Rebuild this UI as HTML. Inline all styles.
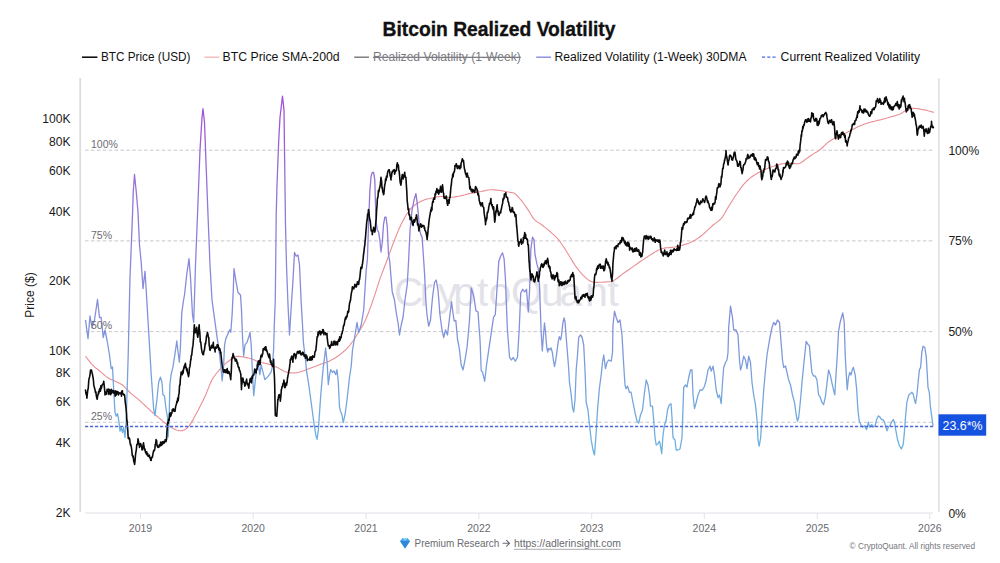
<!DOCTYPE html><html><head><meta charset="utf-8"><title>Bitcoin Realized Volatility</title><style>html,body{margin:0;padding:0;background:#fff;}body{width:1000px;height:563px;overflow:hidden;}svg{display:block;}</style></head><body><svg width="1000" height="563" viewBox="0 0 1000 563" font-family='"Liberation Sans", Arial, Helvetica, sans-serif'>
<defs><linearGradient id="vg" gradientUnits="userSpaceOnUse" x1="0" y1="95" x2="0" y2="460"><stop offset="0" stop-color="#a24ed8"/><stop offset="0.233" stop-color="#9570d6"/><stop offset="0.452" stop-color="#8a86dc"/><stop offset="0.616" stop-color="#8390da"/><stop offset="0.781" stop-color="#78a2dc"/><stop offset="0.945" stop-color="#6cb0e0"/><stop offset="1" stop-color="#68b2e0"/></linearGradient></defs>
<rect width="1000" height="563" fill="#fff"/>
<text x="382.5" y="35.7" font-size="20.6" font-weight="700" fill="#111" stroke="#111" stroke-width="0.35" textLength="233" lengthAdjust="spacingAndGlyphs">Bitcoin Realized Volatility</text>
<line x1="82" y1="57.2" x2="97.4" y2="57.2" stroke="#111" stroke-width="1.6"/>
<text x="101" y="61" font-size="12.5" fill="#111" textLength="89.4" lengthAdjust="spacingAndGlyphs">BTC Price (USD)</text>
<line x1="204.4" y1="57.2" x2="219.2" y2="57.2" stroke="#f2b8b8" stroke-width="1.4"/>
<text x="222.6" y="61" font-size="12.5" fill="#111" textLength="117" lengthAdjust="spacingAndGlyphs">BTC Price SMA-200d</text>
<line x1="354.2" y1="57.2" x2="369" y2="57.2" stroke="#777" stroke-width="1.4"/>
<text x="373" y="61" font-size="12.5" fill="#7a7a80" textLength="147.8" lengthAdjust="spacingAndGlyphs" text-decoration="line-through">Realized Volatility (1-Week)</text>
<line x1="536.2" y1="57.2" x2="551" y2="57.2" stroke="#8a86e0" stroke-width="1.4"/>
<text x="554.4" y="61" font-size="12.5" fill="#111" textLength="192.1" lengthAdjust="spacingAndGlyphs">Realized Volatility (1-Week) 30DMA</text>
<line x1="762" y1="57.2" x2="776.5" y2="57.2" stroke="#4a6ee0" stroke-width="1.3" stroke-dasharray="3.2 2"/>
<text x="780.6" y="61" font-size="12.5" fill="#111" textLength="139.4" lengthAdjust="spacingAndGlyphs">Current Realized Volatility</text>
<line x1="80.2" y1="78" x2="80.2" y2="512" stroke="#dcdcdf" stroke-width="1.8"/>
<line x1="938.8" y1="78.3" x2="938.8" y2="512" stroke="#dcdcdf" stroke-width="1.4"/>
<line x1="85" y1="513" x2="933" y2="513" stroke="#e2e2ea" stroke-width="1.2"/>
<line x1="140.5" y1="513" x2="140.5" y2="519" stroke="#e2e2ea" stroke-width="1"/>
<text x="140.5" y="531.5" text-anchor="middle" font-size="10.5" fill="#6a6a70">2019</text>
<line x1="253.2" y1="513" x2="253.2" y2="519" stroke="#e2e2ea" stroke-width="1"/>
<text x="253.2" y="531.5" text-anchor="middle" font-size="10.5" fill="#6a6a70">2020</text>
<line x1="366" y1="513" x2="366" y2="519" stroke="#e2e2ea" stroke-width="1"/>
<text x="366" y="531.5" text-anchor="middle" font-size="10.5" fill="#6a6a70">2021</text>
<line x1="478.9" y1="513" x2="478.9" y2="519" stroke="#e2e2ea" stroke-width="1"/>
<text x="478.9" y="531.5" text-anchor="middle" font-size="10.5" fill="#6a6a70">2022</text>
<line x1="591.7" y1="513" x2="591.7" y2="519" stroke="#e2e2ea" stroke-width="1"/>
<text x="591.7" y="531.5" text-anchor="middle" font-size="10.5" fill="#6a6a70">2023</text>
<line x1="704.3" y1="513" x2="704.3" y2="519" stroke="#e2e2ea" stroke-width="1"/>
<text x="704.3" y="531.5" text-anchor="middle" font-size="10.5" fill="#6a6a70">2024</text>
<line x1="817.4" y1="513" x2="817.4" y2="519" stroke="#e2e2ea" stroke-width="1"/>
<text x="817.4" y="531.5" text-anchor="middle" font-size="10.5" fill="#6a6a70">2025</text>
<line x1="929.8" y1="513" x2="929.8" y2="519" stroke="#e2e2ea" stroke-width="1"/>
<text x="929.8" y="531.5" text-anchor="middle" font-size="10.5" fill="#6a6a70">2026</text>
<line x1="85" y1="150.2" x2="934" y2="150.2" stroke="#c8c8ce" stroke-width="1" stroke-dasharray="3.6 2.3"/>
<line x1="85" y1="240.9" x2="934" y2="240.9" stroke="#c8c8ce" stroke-width="1" stroke-dasharray="3.6 2.3"/>
<line x1="85" y1="331.6" x2="934" y2="331.6" stroke="#c8c8ce" stroke-width="1" stroke-dasharray="3.6 2.3"/>
<line x1="85" y1="422.3" x2="934" y2="422.3" stroke="#c8c8ce" stroke-width="1" stroke-dasharray="3.6 2.3"/>
<text x="394.02 419.46 437.38 453.30 477.01 488.74 511.07 541.06 559.39 585.22 607.41" y="305.5" font-size="40.5" fill="#e2e2e8">CryptoQuant</text>
<text x="70.6" y="123.4" text-anchor="end" font-size="12.8" fill="#1a1a1a" textLength="28.26" lengthAdjust="spacingAndGlyphs">100K</text>
<text x="70.6" y="145.9" text-anchor="end" font-size="12.8" fill="#1a1a1a" textLength="21.53" lengthAdjust="spacingAndGlyphs">80K</text>
<text x="70.6" y="174.8" text-anchor="end" font-size="12.8" fill="#1a1a1a" textLength="21.53" lengthAdjust="spacingAndGlyphs">60K</text>
<text x="70.6" y="215.6" text-anchor="end" font-size="12.8" fill="#1a1a1a" textLength="21.53" lengthAdjust="spacingAndGlyphs">40K</text>
<text x="70.6" y="285.3" text-anchor="end" font-size="12.8" fill="#1a1a1a" textLength="21.53" lengthAdjust="spacingAndGlyphs">20K</text>
<text x="70.6" y="355.0" text-anchor="end" font-size="12.8" fill="#1a1a1a" textLength="21.53" lengthAdjust="spacingAndGlyphs">10K</text>
<text x="70.6" y="377.4" text-anchor="end" font-size="12.8" fill="#1a1a1a" textLength="14.80" lengthAdjust="spacingAndGlyphs">8K</text>
<text x="70.6" y="406.3" text-anchor="end" font-size="12.8" fill="#1a1a1a" textLength="14.80" lengthAdjust="spacingAndGlyphs">6K</text>
<text x="70.6" y="447.1" text-anchor="end" font-size="12.8" fill="#1a1a1a" textLength="14.80" lengthAdjust="spacingAndGlyphs">4K</text>
<text x="70.6" y="516.8" text-anchor="end" font-size="12.8" fill="#1a1a1a" textLength="14.80" lengthAdjust="spacingAndGlyphs">2K</text>
<text transform="translate(33.6,295) rotate(-90)" text-anchor="middle" font-size="12" fill="#1a1a1a">Price ($)</text>
<text x="948.4" y="154.7" font-size="12.8" fill="#1a1a1a" textLength="30.95" lengthAdjust="spacingAndGlyphs">100%</text>
<text x="948.4" y="245.4" font-size="12.8" fill="#1a1a1a" textLength="24.22" lengthAdjust="spacingAndGlyphs">75%</text>
<text x="948.4" y="336.1" font-size="12.8" fill="#1a1a1a" textLength="24.22" lengthAdjust="spacingAndGlyphs">50%</text>
<text x="948.4" y="517.5" font-size="12.8" fill="#1a1a1a" textLength="17.49" lengthAdjust="spacingAndGlyphs">0%</text>
<path d="M85.5,356.2 L86.3,357.2 L87.3,358.6 L88.5,360.2 L89.9,361.9 L91.2,363.6 L92.5,365.0 L93.7,366.2 L95.0,367.3 L96.2,368.3 L97.5,369.2 L98.7,370.2 L100.0,371.2 L101.2,372.3 L102.5,373.4 L103.8,374.5 L105.0,375.6 L106.2,376.6 L107.5,377.5 L108.8,378.3 L110.0,378.9 L111.2,379.5 L112.5,380.1 L113.8,380.6 L115.0,381.2 L116.2,381.8 L117.5,382.3 L118.8,382.9 L120.0,383.5 L121.2,384.2 L122.5,385.0 L123.8,386.1 L125.0,387.3 L126.2,388.6 L127.5,390.0 L128.8,391.3 L130.0,392.5 L131.2,393.6 L132.5,394.6 L133.8,395.6 L135.0,396.6 L136.2,397.6 L137.5,398.7 L138.8,399.8 L140.0,400.9 L141.2,402.0 L142.5,403.2 L143.8,404.3 L145.0,405.5 L146.2,406.7 L147.5,407.8 L148.8,409.0 L150.0,410.2 L151.2,411.4 L152.5,412.5 L153.8,413.6 L155.1,414.7 L156.4,415.8 L157.7,416.8 L158.9,417.8 L160.0,418.7 L161.0,419.5 L161.8,420.2 L162.5,420.9 L163.2,421.6 L164.1,422.3 L165.0,423.0 L166.1,423.8 L167.3,424.7 L168.5,425.7 L169.8,426.5 L171.1,427.4 L172.4,428.1 L173.6,428.7 L174.9,429.3 L176.2,429.9 L177.4,430.3 L178.6,430.6 L179.8,430.8 L180.9,430.8 L182.0,430.7 L183.1,430.4 L184.1,430.0 L185.1,429.5 L186.0,428.9 L186.9,428.2 L187.7,427.5 L188.5,426.6 L189.3,425.6 L190.1,424.4 L191.0,423.1 L191.9,421.6 L192.9,419.9 L193.9,418.1 L195.0,416.1 L196.1,414.0 L197.2,411.9 L198.4,409.7 L199.6,407.3 L200.9,404.8 L202.2,402.3 L203.4,399.7 L204.7,397.0 L206.0,394.2 L207.2,391.1 L208.5,388.0 L209.7,384.9 L211.0,382.1 L212.2,379.6 L213.4,377.5 L214.7,375.7 L215.9,374.0 L217.1,372.5 L218.4,371.1 L219.6,369.7 L220.8,368.3 L222.1,366.9 L223.3,365.6 L224.6,364.4 L225.8,363.3 L227.1,362.2 L228.4,361.2 L229.7,360.2 L231.0,359.3 L232.3,358.5 L233.5,357.8 L234.6,357.2 L235.6,356.8 L236.4,356.5 L237.1,356.4 L237.9,356.4 L238.9,356.4 L240.0,356.5 L241.4,356.7 L243.0,356.9 L244.7,357.2 L246.5,357.6 L248.3,358.0 L250.0,358.5 L251.7,359.0 L253.3,359.6 L254.9,360.2 L256.6,360.9 L258.2,361.5 L259.9,362.0 L261.6,362.5 L263.3,362.9 L265.1,363.3 L266.8,363.7 L268.4,364.1 L269.9,364.5 L271.3,365.0 L272.6,365.4 L273.8,365.9 L274.9,366.4 L276.1,366.9 L277.3,367.5 L278.5,368.1 L279.8,368.9 L281.1,369.6 L282.3,370.3 L283.6,371.0 L284.8,371.5 L286.0,371.9 L287.3,372.3 L288.5,372.6 L289.7,372.8 L291.0,372.9 L292.2,373.0 L293.4,373.0 L294.6,372.9 L295.8,372.8 L297.0,372.6 L298.3,372.3 L299.7,372.0 L301.2,371.6 L302.9,371.0 L304.5,370.4 L306.3,369.7 L308.0,369.0 L309.7,368.4 L311.4,367.8 L313.0,367.2 L314.7,366.6 L316.3,365.9 L317.9,365.3 L319.6,364.7 L321.3,364.1 L322.9,363.5 L324.6,362.9 L326.3,362.3 L327.9,361.7 L329.6,360.9 L331.2,360.1 L332.9,359.2 L334.5,358.3 L336.2,357.3 L337.8,356.2 L339.5,355.0 L341.2,353.6 L343.1,352.0 L344.9,350.3 L346.7,348.6 L348.4,346.8 L350.0,345.0 L351.4,343.2 L352.7,341.5 L353.9,339.7 L355.1,337.9 L356.3,336.0 L357.5,334.0 L358.8,332.0 L360.0,330.0 L361.3,328.0 L362.5,325.9 L363.8,323.5 L365.0,321.0 L366.2,318.2 L367.5,315.2 L368.7,312.1 L369.9,308.8 L371.2,305.4 L372.4,302.0 L373.6,298.4 L374.9,294.6 L376.1,290.8 L377.3,286.9 L378.6,283.1 L379.8,279.4 L381.0,275.9 L382.3,272.6 L383.6,269.3 L384.8,266.0 L386.1,262.8 L387.3,259.5 L388.5,256.2 L389.8,252.8 L391.0,249.4 L392.2,246.0 L393.5,242.8 L394.7,239.6 L395.9,236.5 L397.2,233.4 L398.4,230.4 L399.7,227.5 L400.9,224.8 L402.2,222.2 L403.5,219.8 L404.7,217.5 L406.0,215.3 L407.2,213.3 L408.5,211.5 L409.7,209.8 L410.9,208.4 L412.2,207.2 L413.4,206.1 L414.6,205.2 L415.9,204.3 L417.1,203.5 L418.3,202.7 L419.6,202.0 L420.9,201.4 L422.1,200.8 L423.4,200.3 L424.6,199.8 L425.8,199.4 L427.1,199.0 L428.3,198.8 L429.5,198.5 L430.7,198.3 L432.0,198.0 L433.3,197.7 L434.5,197.4 L435.8,197.1 L437.2,196.8 L438.5,196.6 L440.0,196.5 L441.6,196.5 L443.2,196.7 L444.9,196.9 L446.6,197.1 L448.3,197.3 L450.0,197.3 L451.7,197.2 L453.3,197.1 L454.9,196.9 L456.6,196.6 L458.2,196.3 L459.9,196.0 L461.6,195.6 L463.2,195.2 L464.9,194.8 L466.6,194.3 L468.2,193.9 L469.9,193.5 L471.6,193.2 L473.2,192.9 L474.8,192.6 L476.5,192.4 L478.1,192.1 L479.8,191.8 L481.5,191.5 L483.1,191.1 L484.8,190.7 L486.5,190.3 L488.1,190.0 L489.8,189.8 L491.5,189.7 L493.1,189.8 L494.7,189.9 L496.4,190.1 L498.0,190.3 L499.7,190.5 L501.4,190.7 L503.2,191.0 L505.0,191.4 L506.7,191.7 L508.3,192.0 L509.7,192.3 L510.8,192.5 L511.7,192.6 L512.5,192.7 L513.1,192.8 L513.8,193.1 L514.6,193.5 L515.4,194.1 L516.3,194.8 L517.1,195.7 L517.9,196.6 L518.8,197.6 L519.6,198.5 L520.4,199.4 L521.3,200.4 L522.1,201.4 L522.9,202.5 L523.8,203.6 L524.6,204.7 L525.4,205.9 L526.3,207.1 L527.1,208.4 L527.9,209.7 L528.8,210.9 L529.6,212.2 L530.4,213.5 L531.1,214.8 L531.9,216.1 L532.7,217.4 L533.5,218.6 L534.5,219.7 L535.6,220.7 L536.8,221.6 L538.1,222.4 L539.4,223.2 L540.7,224.1 L542.0,225.0 L543.3,226.0 L544.6,227.1 L546.0,228.1 L547.4,229.3 L548.7,230.4 L550.0,231.5 L551.3,232.6 L552.6,233.8 L553.9,234.9 L555.2,236.1 L556.4,237.3 L557.5,238.5 L558.5,239.7 L559.5,241.0 L560.4,242.2 L561.3,243.5 L562.1,244.7 L563.0,246.0 L563.8,247.2 L564.6,248.4 L565.3,249.6 L566.1,250.8 L567.0,252.2 L568.0,253.8 L569.2,255.7 L570.4,257.8 L571.8,260.1 L573.2,262.4 L574.6,264.6 L576.0,266.6 L577.3,268.4 L578.7,270.2 L580.0,271.9 L581.3,273.4 L582.7,274.9 L584.0,276.2 L585.3,277.4 L586.7,278.6 L588.0,279.6 L589.3,280.5 L590.7,281.2 L592.0,281.8 L593.3,282.2 L594.7,282.4 L596.0,282.4 L597.3,282.4 L598.7,282.3 L600.0,282.3 L601.4,282.3 L602.8,282.2 L604.2,282.1 L605.6,282.0 L606.8,281.9 L608.0,281.8 L608.9,281.8 L609.7,281.8 L610.3,281.9 L611.0,281.8 L611.9,281.6 L613.0,281.0 L614.4,280.1 L616.0,279.0 L617.8,277.7 L619.7,276.2 L621.8,274.6 L624.0,273.0 L626.4,271.3 L629.0,269.5 L631.7,267.6 L634.5,265.6 L637.3,263.7 L640.0,261.8 L642.8,259.9 L645.6,258.0 L648.5,256.1 L651.3,254.3 L653.8,252.7 L656.0,251.4 L657.8,250.4 L659.3,249.7 L660.5,249.2 L661.6,248.8 L662.8,248.5 L664.0,248.2 L665.3,247.9 L666.7,247.8 L668.0,247.7 L669.3,247.6 L670.7,247.6 L672.0,247.4 L673.3,247.2 L674.7,247.0 L676.0,246.7 L677.3,246.4 L678.7,246.1 L680.0,245.8 L681.3,245.5 L682.7,245.1 L684.0,244.7 L685.3,244.3 L686.7,243.9 L688.0,243.4 L689.3,242.9 L690.7,242.3 L692.0,241.7 L693.3,241.0 L694.7,240.3 L696.0,239.5 L697.3,238.6 L698.7,237.7 L700.0,236.7 L701.3,235.7 L702.7,234.6 L704.0,233.5 L705.3,232.3 L706.6,231.1 L707.9,229.9 L709.2,228.6 L710.6,227.3 L712.0,226.0 L713.5,224.8 L715.1,223.6 L716.7,222.4 L718.3,221.1 L719.9,219.8 L721.3,218.3 L722.6,216.6 L723.8,214.8 L725.0,212.8 L726.1,210.8 L727.2,208.8 L728.4,206.9 L729.6,205.0 L730.8,203.0 L732.0,201.1 L733.2,199.2 L734.4,197.3 L735.6,195.5 L736.8,193.7 L738.0,192.0 L739.2,190.3 L740.3,188.6 L741.5,187.1 L742.7,185.6 L743.9,184.2 L745.1,182.9 L746.2,181.7 L747.4,180.5 L748.6,179.4 L749.8,178.4 L751.0,177.4 L752.2,176.5 L753.3,175.7 L754.5,175.0 L755.7,174.2 L756.9,173.5 L758.1,172.8 L759.3,172.2 L760.5,171.6 L761.6,171.0 L762.8,170.4 L764.0,169.9 L765.2,169.4 L766.4,168.9 L767.5,168.4 L768.7,168.0 L769.9,167.5 L771.1,167.1 L772.3,166.6 L773.5,166.2 L774.7,165.7 L775.8,165.3 L777.0,164.9 L778.2,164.6 L779.4,164.3 L780.6,164.1 L781.7,163.9 L782.9,163.7 L784.1,163.6 L785.3,163.5 L786.5,163.4 L787.7,163.4 L788.9,163.4 L790.1,163.5 L791.3,163.5 L792.5,163.5 L793.7,163.5 L794.9,163.6 L796.1,163.7 L797.2,163.7 L798.4,163.6 L799.6,163.3 L800.8,162.8 L802.0,162.0 L803.2,161.2 L804.3,160.3 L805.5,159.4 L806.7,158.5 L807.9,157.7 L809.1,156.8 L810.3,156.0 L811.5,155.2 L812.7,154.4 L813.8,153.6 L814.8,152.9 L815.8,152.4 L816.7,151.9 L817.7,151.3 L818.8,150.6 L820.0,149.7 L821.4,148.5 L823.0,147.0 L824.7,145.4 L826.4,143.8 L828.1,142.3 L829.8,141.0 L831.5,140.0 L833.1,139.1 L834.8,138.3 L836.5,137.5 L838.1,136.8 L839.8,136.0 L841.5,135.2 L843.1,134.3 L844.7,133.5 L846.4,132.7 L848.0,131.8 L849.7,131.0 L851.4,130.1 L853.0,129.3 L854.7,128.4 L856.4,127.6 L858.0,126.7 L859.7,126.0 L861.4,125.3 L863.0,124.7 L864.7,124.1 L866.3,123.5 L867.9,123.0 L869.6,122.5 L871.3,122.0 L872.9,121.6 L874.6,121.2 L876.3,120.8 L877.9,120.4 L879.6,120.0 L881.3,119.6 L882.9,119.1 L884.6,118.7 L886.2,118.2 L887.8,117.8 L889.5,117.3 L891.2,116.8 L892.9,116.3 L894.6,115.9 L896.3,115.3 L898.0,114.8 L899.5,114.2 L900.9,113.5 L902.2,112.7 L903.4,111.9 L904.6,111.1 L905.8,110.4 L907.0,109.8 L908.2,109.4 L909.4,109.0 L910.6,108.7 L911.8,108.5 L913.0,108.4 L914.4,108.4 L915.9,108.5 L917.5,108.6 L919.2,108.9 L920.9,109.2 L922.6,109.6 L924.3,109.9 L926.0,110.3 L927.8,110.8 L929.7,111.2 L931.4,111.7 L932.8,112.1 L933.8,112.4" fill="none" stroke="#ea8e94" stroke-width="1.1" stroke-linejoin="round"/>
<path d="M85.5,320.0 L88.0,338.7 L90.0,316.0 L92.0,327.5 L94.5,320.0 L97.5,299.5 L99.5,317.5 L101.2,317.5 L103.2,337.5 L105.0,330.0 L107.0,340.0 L109.5,355.0 L111.2,368.7 L112.5,367.0 L113.7,390.0 L115.0,412.5 L116.2,416.2 L117.5,413.7 L118.7,420.0 L120.0,431.2 L121.2,427.5 L122.5,432.5 L123.7,427.5 L125.0,437.5 L126.2,420.0 L127.0,395.0 L128.2,355.0 L130.0,277.5 L131.5,240.0 L132.5,215.0 L133.2,192.5 L134.5,174.5 L136.2,191.2 L138.0,212.0 L139.5,245.0 L141.2,262.5 L143.0,288.7 L145.0,271.2 L146.2,290.0 L148.7,332.3 L151.2,374.6 L153.7,409.5 L155.0,415.7 L156.9,399.5 L158.7,382.0 L160.4,377.1 L161.9,382.0 L162.9,394.5 L164.5,396.0 L166.1,409.5 L167.4,416.9 L168.1,437.0 L169.1,419.4 L169.9,384.6 L171.1,374.6 L172.9,367.2 L174.9,354.7 L176.8,341.0 L177.8,349.8 L179.3,362.2 L180.3,349.8 L181.8,312.4 L183.6,300.0 L184.5,295.0 L187.0,272.5 L189.0,258.7 L190.5,277.5 L192.5,315.0 L193.7,322.5 L195.5,265.0 L197.5,215.0 L200.0,150.0 L202.0,117.5 L203.0,108.7 L204.5,122.5 L206.2,167.5 L208.0,215.0 L210.0,265.0 L212.0,300.0 L214.7,319.9 L217.1,337.3 L219.6,354.7 L220.9,367.2 L222.1,380.8 L223.4,369.7 L224.6,344.8 L225.8,338.6 L227.6,334.8 L229.6,329.9 L230.8,332.3 L232.1,314.9 L233.3,290.0 L234.0,268.7 L236.2,282.5 L238.0,292.5 L240.5,295.0 L241.5,310.0 L242.5,337.3 L243.7,356.0 L245.0,344.8 L247.0,342.3 L248.7,337.3 L250.0,332.3 L251.2,344.8 L252.4,372.1 L253.7,395.8 L254.9,384.6 L256.2,372.1 L257.4,362.2 L258.7,367.2 L259.9,374.6 L261.1,364.7 L263.6,374.6 L264.9,379.6 L267.4,377.1 L269.4,374.6 L271.1,372.1 L272.3,367.2 L273.6,349.8 L274.3,324.9 L275.3,300.0 L276.2,215.0 L277.0,185.0 L278.7,141.0 L280.0,117.5 L282.5,96.2 L284.0,110.0 L284.5,150.0 L285.5,225.0 L286.5,265.0 L288.0,305.0 L289.5,335.0 L291.2,307.5 L293.0,280.0 L294.5,252.5 L296.2,256.2 L298.0,255.0 L299.5,265.0 L301.2,302.5 L302.5,325.0 L303.4,342.3 L305.2,357.2 L306.7,372.1 L308.4,382.1 L310.1,394.5 L312.1,409.5 L314.1,424.4 L315.9,435.6 L317.1,439.3 L318.4,429.4 L319.6,411.9 L320.8,394.5 L322.1,379.6 L323.3,367.2 L324.6,357.2 L325.6,348.0 L327.1,362.0 L328.3,384.6 L329.6,374.6 L330.8,369.7 L332.5,372.5 L334.0,370.9 L335.8,374.6 L337.0,369.7 L338.3,382.1 L339.5,407.0 L340.5,411.2 L342.0,415.0 L343.2,422.5 L345.0,415.0 L347.0,400.0 L349.5,377.5 L351.2,366.2 L352.5,350.0 L355.0,335.0 L357.0,322.5 L358.7,332.5 L361.2,325.0 L363.7,310.0 L366.2,270.0 L367.4,259.5 L368.6,222.2 L369.9,189.9 L371.1,176.2 L372.3,172.4 L373.6,172.4 L374.8,179.9 L375.3,197.3 L376.1,222.2 L377.3,229.7 L378.6,232.1 L379.8,239.6 L381.0,252.0 L382.3,242.1 L383.5,224.7 L384.8,217.2 L386.0,217.2 L387.3,227.2 L388.5,254.5 L389.8,262.0 L391.0,276.9 L392.2,291.8 L394.5,300.0 L396.2,312.5 L398.0,322.5 L399.5,335.0 L401.2,325.0 L403.0,317.5 L405.0,300.0 L407.2,285.0 L408.4,264.5 L410.1,229.7 L412.1,209.8 L414.1,199.8 L415.9,193.6 L417.1,202.3 L418.4,214.7 L419.6,229.7 L420.8,234.6 L422.1,237.1 L423.3,254.5 L424.6,274.4 L425.8,300.0 L427.0,315.0 L428.7,326.2 L430.5,320.0 L432.5,297.5 L434.5,282.5 L436.2,280.0 L438.0,290.0 L440.0,315.0 L442.0,330.0 L443.7,337.5 L445.5,330.0 L447.5,335.0 L449.5,318.0 L451.5,301.7 L453.0,313.0 L454.2,321.0 L455.8,320.4 L457.6,340.0 L458.7,345.0 L459.5,350.0 L461.2,365.0 L463.0,370.0 L465.0,360.0 L467.0,347.5 L467.5,342.5 L469.5,320.0 L471.3,288.0 L474.0,297.3 L475.9,310.6 L478.0,312.0 L480.1,341.3 L481.2,370.6 L482.5,372.0 L484.7,381.3 L486.5,365.3 L490.0,341.3 L493.5,317.3 L495.3,314.7 L496.7,293.3 L498.8,261.3 L500.7,256.0 L502.5,252.8 L504.1,258.7 L505.5,280.0 L507.3,328.0 L509.5,357.3 L511.3,360.0 L513.3,357.5 L515.3,361.3 L517.5,357.3 L519.3,328.0 L520.7,293.3 L522.8,289.3 L524.7,292.0 L526.5,289.3 L528.3,312.0 L529.6,290.0 L530.8,249.5 L532.5,237.1 L534.0,239.6 L535.0,254.5 L537.0,264.4 L538.5,270.0 L539.5,285.0 L540.2,305.0 L541.1,331.1 L542.3,351.0 L543.5,334.8 L544.5,323.0 L545.4,331.1 L546.7,347.3 L547.7,352.2 L548.5,348.5 L549.8,349.8 L551.0,347.9 L552.3,352.2 L553.5,361.0 L554.5,366.5 L555.6,361.0 L556.9,352.2 L558.1,342.3 L559.3,336.7 L560.6,339.8 L561.6,334.8 L562.8,323.6 L564.1,318.0 L565.1,322.4 L565.9,333.6 L567.2,349.8 L568.4,364.7 L569.5,382.5 L571.2,395.0 L572.5,407.5 L573.7,412.0 L575.0,400.0 L576.2,370.0 L577.5,355.0 L578.7,337.5 L580.5,335.0 L582.0,337.0 L583.7,345.0 L585.0,370.0 L586.2,402.5 L588.0,410.0 L589.5,425.0 L591.2,440.0 L593.0,450.0 L594.5,455.0 L596.2,432.5 L597.5,410.0 L599.5,387.5 L601.2,375.0 L602.5,362.5 L603.7,355.0 L605.5,368.7 L607.0,362.5 L608.7,360.0 L611.2,361.2 L612.5,352.5 L613.0,325.0 L614.5,311.2 L616.2,317.5 L618.0,322.5 L620.0,320.0 L622.0,335.0 L623.7,365.0 L625.0,385.0 L626.2,388.7 L627.5,386.0 L629.5,392.5 L631.0,392.0 L633.0,402.5 L635.0,412.5 L637.0,421.2 L638.7,423.0 L640.5,415.0 L642.5,410.0 L644.5,392.5 L646.2,380.0 L648.0,385.0 L649.5,395.0 L650.5,406.2 L652.5,406.2 L653.7,420.0 L655.0,437.5 L656.2,445.0 L658.0,443.7 L659.5,441.2 L660.5,446.2 L661.7,453.7 L663.0,435.0 L664.5,425.0 L666.2,420.0 L667.5,410.0 L669.2,405.0 L671.0,403.7 L672.0,417.5 L673.0,437.5 L675.0,440.0 L676.2,450.0 L678.0,450.0 L680.0,449.0 L682.0,437.5 L683.7,387.5 L685.5,385.0 L687.0,387.0 L688.7,377.5 L690.5,370.0 L692.0,370.0 L693.0,395.0 L694.5,408.7 L696.2,402.5 L698.0,395.0 L700.0,390.0 L702.5,390.0 L704.5,386.2 L706.2,380.0 L708.0,370.0 L710.0,366.2 L711.2,371.2 L713.0,366.2 L714.5,375.0 L716.2,390.0 L718.0,397.5 L719.5,395.0 L721.2,403.7 L722.5,382.5 L723.7,367.5 L725.5,362.5 L727.0,360.0 L728.0,352.5 L728.7,327.5 L730.5,306.2 L732.5,317.5 L733.7,330.0 L736.0,330.0 L738.0,335.0 L739.5,360.0 L740.5,370.0 L742.0,365.0 L743.7,356.2 L745.5,360.0 L747.0,368.7 L748.7,356.2 L750.5,362.5 L752.0,382.5 L753.7,395.0 L755.5,405.0 L757.0,420.0 L758.0,440.0 L759.2,446.2 L760.7,437.5 L762.0,415.0 L763.7,390.0 L765.5,370.0 L767.0,355.0 L769.5,340.0 L772.0,327.5 L773.7,322.5 L775.5,325.0 L777.5,320.0 L779.5,322.5 L780.5,335.0 L782.5,360.0 L783.7,367.5 L785.5,366.0 L787.0,372.5 L788.7,380.0 L790.5,385.0 L792.5,395.0 L794.5,402.5 L796.2,415.0 L797.5,421.2 L798.7,417.5 L800.5,400.0 L802.0,382.5 L803.7,365.0 L805.0,352.5 L806.2,341.4 L808.0,344.4 L809.4,345.6 L810.4,357.4 L811.9,372.4 L813.6,376.1 L815.2,376.0 L816.9,379.8 L818.6,394.8 L820.3,397.2 L821.8,402.2 L823.6,404.7 L825.3,397.2 L826.8,384.8 L828.6,369.9 L830.3,374.9 L831.8,382.3 L833.5,389.8 L834.8,394.8 L836.0,374.9 L837.3,355.0 L838.5,332.0 L840.2,322.0 L842.7,312.8 L844.2,322.0 L845.2,354.3 L846.0,369.9 L847.2,389.8 L848.5,377.3 L849.7,372.4 L851.0,375.0 L852.2,369.9 L853.4,367.4 L855.2,374.9 L856.7,389.8 L857.9,409.7 L859.2,420.9 L860.9,424.6 L862.6,427.1 L864.6,425.8 L866.6,429.6 L868.4,422.1 L869.6,427.1 L871.6,424.6 L873.3,427.0 L875.1,425.8 L876.6,419.6 L878.3,415.9 L880.0,417.1 L881.5,419.6 L883.0,419.6 L884.5,422.1 L885.8,427.1 L887.0,430.8 L888.3,427.1 L890.0,425.8 L891.5,422.1 L893.2,419.6 L894.5,422.1 L895.7,429.6 L897.5,439.5 L899.5,445.7 L901.4,449.0 L903.2,444.5 L904.4,432.1 L905.7,414.7 L906.9,402.2 L908.9,394.8 L910.6,393.5 L911.9,392.3 L913.2,394.0 L914.4,399.7 L915.6,403.5 L916.9,394.8 L918.1,382.3 L919.4,369.9 L920.6,367.4 L921.8,352.5 L923.1,346.2 L924.8,347.5 L926.3,357.4 L928.0,387.3 L929.3,392.3 L930.5,407.2 L931.8,417.1 L933.0,425.8" fill="none" stroke="url(#vg)" stroke-width="1.3" stroke-linejoin="round"/>
<path d="M85.5,390.1 L85.5,390.0 L86.0,394.1 L86.4,393.1 L86.9,398.2 L87.0,397.5 L87.3,394.2 L87.8,389.9 L88.2,388.6 L88.7,381.9 L88.7,381.2 L89.1,378.6 L89.6,377.0 L90.0,374.8 L90.5,370.3 L90.5,370.0 L90.9,371.5 L91.4,370.0 L91.8,371.6 L92.0,372.5 L92.3,373.7 L92.7,375.6 L93.2,378.7 L93.6,381.8 L93.7,385.0 L94.1,386.1 L94.5,388.1 L95.0,389.7 L95.4,392.2 L95.5,392.5 L95.9,391.9 L96.3,395.7 L96.8,398.0 L97.0,398.7 L97.2,399.2 L97.7,395.5 L98.1,394.9 L98.6,391.5 L98.7,393.7 L99.0,392.2 L99.5,389.2 L99.9,388.6 L100.4,391.3 L100.8,385.9 L101.2,387.5 L101.3,388.6 L101.7,386.7 L102.2,384.6 L102.6,384.7 L103.1,383.6 L103.5,383.3 L103.7,381.2 L104.0,383.5 L104.4,387.7 L104.9,392.5 L105.0,395.0 L105.3,393.1 L105.8,393.8 L106.2,392.0 L106.7,394.1 L107.1,389.2 L107.5,391.2 L107.6,389.6 L108.0,390.0 L108.5,389.1 L108.9,394.5 L109.4,389.6 L109.8,392.0 L110.0,392.5 L110.3,391.6 L110.7,394.6 L111.2,389.2 L111.6,393.1 L112.1,390.2 L112.5,391.0 L112.5,390.8 L113.0,390.5 L113.4,392.9 L113.9,390.8 L114.3,392.8 L114.8,394.0 L115.0,393.7 L115.2,396.2 L115.7,390.7 L116.1,395.2 L116.6,394.1 L117.0,391.6 L117.5,392.5 L117.5,392.0 L117.9,391.6 L118.4,395.0 L118.8,393.2 L119.3,392.9 L119.7,393.2 L120.0,393.7 L120.2,393.4 L120.6,393.4 L121.1,392.3 L121.5,396.2 L122.0,390.9 L122.4,390.9 L122.5,393.5 L122.9,393.6 L123.3,393.9 L123.8,395.0 L124.2,394.5 L124.5,395.0 L124.7,396.0 L125.1,400.5 L125.6,405.2 L125.7,405.0 L126.0,407.8 L126.5,413.1 L126.9,421.4 L127.0,420.0 L127.4,426.0 L127.8,430.5 L128.0,435.0 L128.3,438.4 L128.7,438.5 L129.2,437.9 L129.5,440.0 L129.6,438.7 L130.1,443.2 L130.5,445.0 L130.5,443.8 L131.0,445.7 L131.4,447.6 L131.9,451.0 L132.0,452.5 L132.3,455.7 L132.8,455.6 L133.0,457.5 L133.2,456.2 L133.7,461.2 L134.1,462.1 L134.5,463.7 L134.6,464.5 L135.0,461.2 L135.5,455.2 L135.5,455.0 L135.9,452.1 L136.4,449.3 L136.8,444.6 L137.0,445.0 L137.3,444.4 L137.7,442.6 L138.0,438.7 L138.2,439.8 L138.6,441.9 L139.0,444.5 L139.5,446.3 L139.5,447.5 L139.9,444.6 L140.4,443.5 L140.5,443.7 L140.8,443.9 L141.3,446.4 L141.7,446.6 L142.0,450.0 L142.2,449.9 L142.6,448.2 L143.1,445.0 L143.5,442.8 L143.7,445.0 L144.0,446.2 L144.4,449.8 L144.9,448.9 L145.3,451.2 L145.5,452.5 L145.8,451.8 L146.2,453.9 L146.7,451.8 L147.1,455.0 L147.5,453.7 L147.6,453.4 L148.0,456.1 L148.5,455.6 L148.9,456.1 L149.4,455.1 L149.5,457.5 L149.8,457.0 L150.3,458.3 L150.7,460.3 L151.2,460.4 L151.2,460.0 L151.6,457.4 L152.1,457.5 L152.5,456.8 L153.0,453.5 L153.0,453.7 L153.4,451.6 L153.9,450.3 L154.3,450.7 L154.8,448.9 L155.0,447.5 L155.2,444.5 L155.7,443.7 L156.1,439.6 L156.2,440.0 L156.6,440.5 L157.0,445.4 L157.5,446.6 L157.9,446.2 L158.0,447.5 L158.4,447.1 L158.8,447.2 L159.3,444.9 L159.7,445.1 L160.0,445.0 L160.2,445.9 L160.6,442.1 L161.1,444.9 L161.5,445.3 L162.0,444.7 L162.4,441.7 L162.5,443.7 L162.9,443.8 L163.3,441.6 L163.8,443.3 L164.2,442.9 L164.7,441.8 L165.0,441.2 L165.1,439.9 L165.6,439.8 L166.0,441.6 L166.5,438.7 L166.5,440.0 L166.9,432.9 L167.4,425.2 L167.4,424.4 L167.8,422.1 L168.3,423.3 L168.6,419.4 L168.7,419.1 L169.2,420.3 L169.6,413.8 L169.9,415.7 L170.1,412.9 L170.5,416.4 L171.0,415.3 L171.4,413.3 L171.9,413.1 L171.9,413.2 L172.3,409.6 L172.8,410.3 L173.2,408.7 L173.6,409.5 L173.7,409.3 L174.1,411.4 L174.6,410.7 L175.0,411.0 L175.0,411.3 L175.5,407.5 L175.9,405.6 L176.4,404.2 L176.8,402.0 L176.8,401.4 L177.3,402.5 L177.7,398.0 L178.2,400.7 L178.6,397.0 L178.6,395.0 L179.1,393.4 L179.5,386.0 L179.8,384.6 L180.0,385.1 L180.4,378.6 L180.9,374.6 L181.1,372.1 L181.3,373.7 L181.8,372.6 L182.2,372.9 L182.3,374.6 L182.7,370.5 L183.1,373.2 L183.6,368.7 L183.6,369.7 L184.0,366.9 L184.5,365.9 L184.8,364.7 L184.9,367.6 L185.4,363.3 L185.8,367.1 L186.0,367.0 L186.3,367.6 L186.7,370.7 L187.2,369.1 L187.3,372.1 L187.6,372.2 L188.1,375.0 L188.5,374.6 L188.5,376.7 L189.0,374.1 L189.4,367.9 L189.8,367.2 L189.9,366.7 L190.3,363.6 L190.8,358.9 L191.0,359.7 L191.2,355.6 L191.7,355.5 L192.1,351.3 L192.3,349.8 L192.6,347.1 L193.0,345.4 L193.5,338.3 L193.5,339.8 L193.9,332.2 L194.3,324.9 L194.4,325.7 L194.8,329.3 L195.2,332.3 L195.3,332.7 L195.7,330.8 L196.2,329.4 L196.6,328.0 L196.7,327.4 L197.1,334.0 L197.5,335.3 L197.7,337.3 L198.0,336.3 L198.4,332.0 L198.9,326.9 L199.2,324.9 L199.3,328.3 L199.8,332.6 L200.2,339.8 L200.2,341.9 L200.7,341.9 L201.1,345.4 L201.6,349.6 L201.7,349.8 L202.0,352.0 L202.5,353.3 L202.9,354.5 L203.4,354.1 L203.5,354.7 L203.8,351.2 L204.3,350.9 L204.7,347.9 L205.2,343.4 L205.2,344.8 L205.6,343.7 L206.1,340.1 L206.5,335.8 L207.0,335.4 L207.2,333.6 L207.4,332.3 L207.9,334.1 L208.3,337.2 L208.5,337.0 L208.8,337.9 L209.2,345.1 L209.7,347.8 L209.7,349.8 L210.1,350.3 L210.6,347.6 L211.0,348.4 L211.5,345.3 L211.7,347.3 L211.9,346.4 L212.4,347.7 L212.8,346.3 L213.3,342.3 L213.4,344.8 L213.7,347.2 L214.2,348.5 L214.6,347.9 L215.1,351.9 L215.1,349.8 L215.5,347.1 L216.0,347.4 L216.4,348.1 L216.9,347.3 L217.1,344.8 L217.3,347.3 L217.8,344.9 L218.2,345.1 L218.7,349.4 L219.1,349.8 L219.1,347.7 L219.6,350.3 L220.0,349.1 L220.5,353.3 L220.9,352.2 L220.9,353.9 L221.4,358.2 L221.8,362.1 L222.1,364.7 L222.3,365.9 L222.7,368.0 L223.2,371.5 L223.4,372.1 L223.6,372.1 L224.1,371.8 L224.5,369.8 L225.0,372.4 L225.1,369.7 L225.4,370.4 L225.9,372.3 L226.3,372.6 L226.8,369.5 L227.0,371.0 L227.2,368.6 L227.7,373.3 L228.1,371.0 L228.6,372.0 L229.0,371.7 L229.1,372.1 L229.5,374.1 L229.9,374.1 L230.4,377.7 L230.8,379.6 L230.8,378.0 L231.3,371.0 L231.7,360.6 L232.1,357.2 L232.2,358.3 L232.6,357.1 L233.1,353.6 L233.3,356.0 L233.5,355.3 L234.0,357.1 L234.4,358.6 L234.9,358.4 L235.0,358.5 L235.3,361.2 L235.8,360.0 L236.2,359.3 L236.7,360.6 L237.0,362.2 L237.1,363.7 L237.6,362.8 L238.0,366.1 L238.5,367.5 L238.9,368.0 L239.0,367.2 L239.4,370.4 L239.8,370.4 L240.3,372.5 L240.7,373.5 L240.8,374.6 L241.2,382.3 L241.5,389.6 L241.6,385.8 L242.1,382.8 L242.5,379.6 L242.5,378.1 L243.0,378.3 L243.4,381.3 L243.9,382.5 L244.0,382.0 L244.3,382.4 L244.8,386.1 L245.0,384.6 L245.2,385.4 L245.7,384.5 L246.1,380.9 L246.5,381.0 L246.6,379.0 L247.0,382.9 L247.5,383.5 L247.9,385.0 L248.0,384.0 L248.4,386.4 L248.7,387.1 L248.8,388.1 L249.3,383.2 L249.7,382.0 L250.0,379.6 L250.2,378.7 L250.6,378.3 L251.1,381.1 L251.2,382.0 L251.5,382.8 L252.0,376.2 L252.4,377.1 L252.4,378.5 L252.9,375.3 L253.3,375.0 L253.7,375.0 L253.8,374.6 L254.2,372.9 L254.7,369.1 L254.9,369.7 L255.1,370.3 L255.6,371.6 L256.0,373.0 L256.2,372.0 L256.5,369.0 L256.9,369.8 L257.4,367.3 L257.4,364.7 L257.8,366.4 L258.3,361.0 L258.7,362.2 L258.7,362.6 L259.2,360.6 L259.6,364.7 L259.9,364.7 L260.1,364.3 L260.5,358.9 L261.0,355.4 L261.1,357.2 L261.4,356.9 L261.9,356.8 L262.3,353.9 L262.4,355.0 L262.8,352.9 L263.2,348.7 L263.6,349.8 L263.7,348.5 L264.1,349.0 L264.6,348.1 L264.9,347.3 L265.0,350.0 L265.5,346.7 L265.9,346.7 L266.2,349.8 L266.4,350.9 L266.8,350.2 L267.3,352.4 L267.4,352.2 L267.7,354.0 L268.2,354.6 L268.6,356.8 L268.7,354.7 L269.1,357.6 L269.5,354.0 L269.9,357.2 L270.0,357.5 L270.4,362.1 L270.9,360.8 L271.1,362.2 L271.3,364.4 L271.8,364.3 L272.2,365.1 L272.3,365.9 L272.7,366.4 L273.1,363.4 L273.6,359.3 L273.6,359.7 L274.0,370.6 L274.3,374.6 L274.5,378.6 L274.8,389.6 L274.9,396.0 L275.3,414.4 L275.4,415.8 L275.8,414.9 L276.3,413.7 L276.7,416.3 L276.8,415.7 L277.2,409.7 L277.6,403.9 L277.8,399.5 L278.1,399.9 L278.5,396.6 L279.0,394.8 L279.3,394.5 L279.4,395.0 L279.9,397.2 L280.3,399.5 L280.3,401.2 L280.8,396.9 L281.2,392.1 L281.3,389.6 L281.7,388.8 L282.1,386.4 L282.6,386.6 L282.8,384.6 L283.0,383.5 L283.5,383.2 L283.8,382.1 L283.9,380.1 L284.4,383.5 L284.8,387.8 L285.3,385.6 L285.3,387.1 L285.7,383.4 L286.2,383.9 L286.6,385.1 L286.8,382.1 L287.1,382.8 L287.5,377.8 L287.8,377.1 L288.0,375.4 L288.4,373.7 L288.9,370.3 L289.3,369.7 L289.3,369.3 L289.8,365.1 L290.2,362.2 L290.2,359.8 L290.7,359.7 L291.1,358.6 L291.6,356.2 L291.7,357.2 L292.0,356.2 L292.5,360.1 L292.9,362.2 L293.0,359.7 L293.4,357.2 L293.8,354.7 L294.2,353.5 L294.3,354.5 L294.7,354.3 L295.2,354.4 L295.6,358.6 L296.0,357.2 L296.1,355.3 L296.5,354.5 L297.0,353.3 L297.4,351.6 L297.7,352.2 L297.9,351.7 L298.3,352.5 L298.8,353.5 L299.2,351.0 L299.2,352.1 L299.7,352.1 L300.1,351.1 L300.6,353.8 L301.0,354.7 L301.0,353.2 L301.5,353.8 L301.9,354.8 L302.4,352.9 L302.7,352.2 L302.8,352.3 L303.3,352.6 L303.7,354.8 L304.2,356.2 L304.2,356.0 L304.6,354.9 L305.1,355.9 L305.5,358.3 L305.9,357.2 L306.0,354.8 L306.4,356.9 L306.9,356.2 L307.3,360.6 L307.7,358.5 L307.8,359.5 L308.2,359.6 L308.7,359.7 L309.1,359.8 L309.6,360.1 L309.7,359.7 L310.0,357.1 L310.5,359.7 L310.9,360.0 L311.4,356.7 L311.8,359.9 L312.1,358.5 L312.3,359.4 L312.7,355.8 L313.2,357.1 L313.6,357.0 L314.1,356.4 L314.1,357.2 L314.5,355.9 L315.0,351.6 L315.4,351.3 L315.9,350.1 L315.9,349.8 L316.3,346.2 L316.8,340.5 L317.1,337.3 L317.2,336.6 L317.7,336.8 L318.1,332.1 L318.6,335.0 L319.0,332.0 L319.1,332.3 L319.5,331.0 L319.9,332.9 L320.4,331.6 L320.8,334.8 L320.8,332.1 L321.3,333.3 L321.7,331.7 L322.2,333.0 L322.6,331.1 L322.6,329.8 L323.1,329.6 L323.5,330.4 L324.0,334.8 L324.1,332.3 L324.4,332.9 L324.9,332.6 L325.3,332.7 L325.8,333.2 L325.8,334.8 L326.2,334.1 L326.7,334.5 L327.0,333.6 L327.1,336.8 L327.6,341.0 L328.0,344.0 L328.3,346.0 L328.5,345.4 L328.9,346.0 L329.4,345.5 L329.6,348.5 L329.8,346.3 L330.3,347.3 L330.7,345.0 L331.2,344.8 L331.5,343.5 L331.6,341.6 L332.1,345.3 L332.5,344.7 L333.0,344.7 L333.2,344.8 L333.4,345.1 L333.9,341.2 L334.3,342.4 L334.8,341.2 L335.0,342.3 L335.2,345.0 L335.7,342.4 L336.1,342.2 L336.6,344.5 L337.0,343.5 L337.0,341.8 L337.5,344.9 L337.9,341.0 L338.4,341.3 L338.8,339.4 L339.3,341.3 L339.5,339.8 L339.7,336.9 L340.2,339.9 L340.6,337.0 L341.1,337.7 L341.2,337.5 L341.5,334.0 L342.0,333.8 L342.4,331.5 L342.9,329.9 L343.3,327.2 L343.7,325.0 L343.8,325.6 L344.2,324.8 L344.7,321.4 L345.1,318.9 L345.6,317.4 L346.0,319.0 L346.2,317.5 L346.5,316.1 L346.9,317.0 L347.4,314.2 L347.8,311.4 L348.0,312.5 L348.3,312.4 L348.7,311.4 L349.2,306.2 L349.6,302.8 L350.0,302.5 L350.1,300.6 L350.5,300.4 L351.0,295.4 L351.2,295.0 L351.4,292.7 L351.9,291.3 L352.3,287.3 L352.4,286.9 L352.8,287.7 L353.2,287.5 L353.7,288.0 L353.7,289.0 L354.1,287.5 L354.6,285.8 L354.9,284.4 L355.0,285.6 L355.5,284.9 L355.9,287.0 L356.2,287.0 L356.4,286.9 L356.8,284.4 L357.3,283.2 L357.4,281.9 L357.7,284.1 L358.2,283.7 L358.6,284.4 L358.7,284.4 L359.1,280.4 L359.5,279.6 L359.9,276.9 L360.0,275.9 L360.4,271.9 L360.9,267.4 L361.1,267.0 L361.3,267.4 L361.8,268.3 L362.2,265.4 L362.4,264.5 L362.7,262.1 L363.1,258.9 L363.6,253.6 L363.6,254.5 L364.0,251.2 L364.5,246.7 L364.9,244.6 L364.9,243.0 L365.4,238.7 L365.8,233.1 L366.1,229.7 L366.3,227.6 L366.7,222.3 L367.2,219.5 L367.4,217.2 L367.6,214.0 L368.1,214.0 L368.5,209.6 L368.6,209.8 L369.0,212.8 L369.4,217.5 L369.9,220.5 L369.9,219.7 L370.3,221.5 L370.8,226.8 L371.1,229.7 L371.2,230.9 L371.7,230.5 L372.1,231.4 L372.3,234.6 L372.6,232.8 L373.0,230.3 L373.5,228.4 L373.6,227.2 L373.9,228.8 L374.4,230.7 L374.8,232.1 L374.8,232.0 L375.3,229.4 L375.7,223.8 L376.1,219.7 L376.2,218.9 L376.6,210.0 L377.1,204.8 L377.3,199.8 L377.5,198.1 L378.0,196.9 L378.4,190.6 L378.6,192.3 L378.9,191.4 L379.3,189.1 L379.8,186.7 L379.8,187.4 L380.2,185.6 L380.7,180.5 L381.0,177.4 L381.1,178.3 L381.6,181.2 L382.0,188.1 L382.3,187.4 L382.5,189.8 L382.9,192.4 L383.4,193.0 L383.5,194.8 L383.8,194.1 L384.3,189.5 L384.7,184.9 L384.8,184.9 L385.2,183.1 L385.6,178.9 L386.0,179.9 L386.1,180.5 L386.5,176.1 L387.0,177.3 L387.3,174.9 L387.4,173.6 L387.9,171.5 L388.3,171.2 L388.5,170.0 L388.8,170.9 L389.2,169.7 L389.7,172.1 L389.8,172.4 L390.1,175.5 L390.6,177.0 L391.0,179.9 L391.0,177.6 L391.5,176.4 L391.9,172.5 L392.2,172.4 L392.4,171.2 L392.8,171.3 L393.3,170.3 L393.5,170.0 L393.7,170.5 L394.2,169.7 L394.6,174.1 L394.7,173.7 L395.1,172.3 L395.5,170.7 L396.0,170.2 L396.0,170.0 L396.4,170.7 L396.9,164.3 L397.2,165.0 L397.3,162.7 L397.8,166.7 L398.2,164.8 L398.5,166.2 L398.7,170.0 L399.1,170.8 L399.6,175.7 L399.7,177.4 L400.0,180.8 L400.5,183.8 L400.9,184.9 L400.9,185.2 L401.4,181.7 L401.8,177.4 L402.2,174.9 L402.3,174.5 L402.7,175.7 L403.2,178.9 L403.4,177.4 L403.6,177.5 L404.1,174.7 L404.5,173.5 L404.7,172.4 L405.0,174.9 L405.4,177.3 L405.9,177.2 L405.9,177.4 L406.3,184.3 L406.7,189.9 L406.8,191.9 L407.2,200.7 L407.7,205.2 L407.7,204.8 L408.1,209.7 L408.6,208.5 L409.0,215.0 L409.2,214.7 L409.5,214.3 L409.9,217.3 L410.1,219.7 L410.4,218.2 L410.8,218.0 L411.3,217.7 L411.4,217.2 L411.7,219.9 L412.2,222.5 L412.6,224.7 L412.6,223.9 L413.1,225.4 L413.5,221.6 L413.9,219.7 L414.0,220.7 L414.4,222.3 L414.9,221.1 L415.1,219.7 L415.3,219.6 L415.8,217.5 L416.2,217.9 L416.4,214.7 L416.7,215.6 L417.1,219.5 L417.6,224.9 L417.6,224.7 L418.0,223.6 L418.5,226.5 L418.9,230.9 L419.1,229.7 L419.4,227.8 L419.8,226.8 L420.3,225.7 L420.3,224.7 L420.7,223.8 L421.2,226.8 L421.6,227.2 L421.6,226.2 L422.1,225.2 L422.5,226.1 L423.0,226.0 L423.3,225.9 L423.4,225.5 L423.9,225.5 L424.3,228.4 L424.6,227.2 L424.8,229.7 L425.2,230.7 L425.7,231.5 L425.8,232.1 L426.1,232.6 L426.6,235.5 L427.0,237.7 L427.1,239.6 L427.5,235.8 L427.9,232.2 L428.3,227.2 L428.4,227.8 L428.8,222.9 L429.3,218.9 L429.6,217.2 L429.7,216.5 L430.2,213.7 L430.6,211.6 L430.8,209.8 L431.1,211.4 L431.5,207.2 L432.0,209.9 L432.0,207.3 L432.4,203.0 L432.9,201.2 L433.3,202.3 L433.3,199.8 L433.8,198.7 L434.2,198.0 L434.5,197.3 L434.7,199.1 L435.1,193.8 L435.6,194.7 L435.8,192.3 L436.0,191.3 L436.5,191.1 L436.9,188.5 L437.0,189.9 L437.4,192.8 L437.8,190.6 L438.3,190.1 L438.3,191.0 L438.7,194.1 L439.2,192.2 L439.5,192.3 L439.6,192.2 L440.1,189.1 L440.5,187.3 L440.5,186.4 L441.0,188.7 L441.2,192.3 L441.4,190.6 L441.9,190.7 L442.3,186.3 L442.5,184.8 L442.8,187.0 L443.2,192.6 L443.7,193.4 L443.7,194.8 L444.1,198.1 L444.6,197.3 L445.0,198.5 L445.0,197.2 L445.5,198.5 L445.9,197.3 L446.2,196.0 L446.4,196.6 L446.8,200.1 L447.3,203.8 L447.5,203.5 L447.7,205.3 L448.2,201.5 L448.6,199.7 L448.7,202.2 L449.1,203.3 L449.5,198.6 L450.0,196.7 L450.0,197.3 L450.4,193.3 L450.9,187.3 L451.2,184.8 L451.3,185.4 L451.8,179.3 L452.2,178.0 L452.4,177.4 L452.7,174.4 L453.1,176.8 L453.6,172.4 L453.7,172.4 L454.0,172.6 L454.5,171.1 L454.9,167.4 L454.9,165.5 L455.4,165.6 L455.8,165.8 L456.2,163.7 L456.3,164.1 L456.7,165.2 L457.2,168.0 L457.4,167.4 L457.6,168.5 L458.1,165.9 L458.5,166.1 L458.7,166.2 L459.0,167.8 L459.4,168.1 L459.9,168.9 L459.9,168.7 L460.3,165.2 L460.8,167.6 L461.1,163.7 L461.2,162.8 L461.7,161.8 L462.1,159.6 L462.4,158.7 L462.6,159.4 L463.0,160.8 L463.5,160.6 L463.7,162.4 L463.9,164.5 L464.4,168.6 L464.8,170.2 L464.9,169.9 L465.3,172.6 L465.7,174.2 L466.1,174.9 L466.2,174.9 L466.6,177.0 L467.1,173.0 L467.4,173.7 L467.5,174.7 L468.0,177.1 L468.4,177.4 L468.6,177.4 L468.9,178.1 L469.3,181.5 L469.8,188.9 L469.9,187.3 L470.2,186.6 L470.7,189.0 L471.1,189.8 L471.1,190.7 L471.6,191.0 L472.0,189.2 L472.3,192.3 L472.5,189.5 L472.9,191.5 L473.4,190.0 L473.6,191.0 L473.8,190.9 L474.3,191.9 L474.7,192.5 L474.8,192.3 L475.2,188.8 L475.6,186.5 L476.1,188.7 L476.1,187.3 L476.5,188.2 L477.0,189.3 L477.3,192.3 L477.4,190.1 L477.9,194.8 L478.3,193.4 L478.6,196.0 L478.8,195.5 L479.2,200.3 L479.7,202.1 L479.8,202.2 L480.1,204.1 L480.6,202.8 L481.0,206.0 L481.0,203.3 L481.5,203.6 L481.9,203.7 L482.3,203.5 L482.4,202.8 L482.8,206.5 L483.3,207.1 L483.5,207.2 L483.7,207.6 L484.2,213.4 L484.6,215.8 L484.8,217.2 L485.1,219.1 L485.5,223.4 L485.5,224.8 L486.0,218.5 L486.4,220.4 L486.8,217.2 L486.9,218.4 L487.3,212.2 L487.8,212.5 L488.2,210.6 L488.5,209.7 L488.7,207.1 L489.1,205.7 L489.6,203.2 L489.8,203.5 L490.0,203.1 L490.5,201.2 L490.9,198.5 L491.0,201.0 L491.4,204.3 L491.8,205.6 L492.3,204.8 L492.3,206.0 L492.7,207.8 L493.2,209.5 L493.5,207.2 L493.6,206.7 L494.1,214.0 L494.5,219.5 L494.7,222.1 L495.0,220.6 L495.4,215.9 L495.9,210.9 L496.0,212.2 L496.3,211.9 L496.8,206.7 L497.2,204.7 L497.2,206.2 L497.7,211.1 L498.1,210.9 L498.5,214.7 L498.6,214.0 L499.0,215.5 L499.5,213.5 L499.7,213.4 L499.9,213.5 L500.4,211.4 L500.8,212.7 L501.0,209.7 L501.3,209.4 L501.7,207.1 L502.2,204.9 L502.2,204.7 L502.6,203.4 L503.1,198.6 L503.4,199.8 L503.5,198.8 L504.0,198.6 L504.4,194.0 L504.7,194.8 L504.9,194.6 L505.3,194.0 L505.8,192.8 L505.9,193.5 L506.2,197.1 L506.7,196.9 L507.1,197.7 L507.2,197.3 L507.6,197.8 L508.0,200.9 L508.4,202.2 L508.5,202.1 L508.9,204.2 L509.4,206.4 L509.7,207.2 L509.8,210.1 L510.3,210.5 L510.7,212.0 L510.9,209.7 L511.2,211.5 L511.6,211.6 L512.1,207.5 L512.1,208.5 L512.5,207.9 L513.0,211.4 L513.4,212.2 L513.4,212.6 L513.9,212.8 L514.3,212.2 L514.6,213.4 L514.8,214.6 L515.2,216.6 L515.7,214.8 L515.9,214.7 L516.1,217.9 L516.6,226.4 L516.6,224.6 L517.0,229.8 L517.5,235.3 L517.6,237.1 L517.9,240.8 L518.4,241.9 L518.4,244.5 L518.8,246.2 L519.3,242.5 L519.6,242.0 L519.7,242.6 L520.2,241.9 L520.6,241.6 L520.8,240.8 L521.1,239.1 L521.5,244.1 L522.0,242.8 L522.1,242.0 L522.4,241.8 L522.9,243.0 L523.3,239.6 L523.3,237.5 L523.8,238.8 L524.2,235.8 L524.6,234.6 L524.7,232.6 L525.1,238.3 L525.6,234.4 L525.8,237.1 L526.0,237.8 L526.5,238.3 L526.9,239.6 L527.1,239.6 L527.4,239.4 L527.8,244.7 L528.3,244.9 L528.3,244.5 L528.7,252.4 L529.1,261.9 L529.2,261.2 L529.6,268.4 L530.0,271.9 L530.1,270.9 L530.5,276.7 L531.0,279.9 L531.0,279.4 L531.4,277.0 L531.9,273.7 L532.0,276.0 L532.3,274.3 L532.8,277.1 L533.2,276.1 L533.3,276.9 L533.7,281.1 L534.1,279.7 L534.5,281.8 L534.6,282.0 L535.0,280.8 L535.5,278.2 L535.8,276.9 L535.9,276.7 L536.4,275.9 L536.8,272.3 L537.0,271.9 L537.3,274.1 L537.7,275.7 L538.2,281.4 L538.3,279.4 L538.6,278.2 L539.1,277.3 L539.5,274.4 L539.5,271.5 L540.0,270.9 L540.4,267.5 L540.9,266.7 L541.2,265.0 L541.3,264.4 L541.8,263.8 L542.2,265.2 L542.7,267.1 L543.0,266.0 L543.1,267.4 L543.6,264.2 L544.0,265.8 L544.5,262.5 L544.9,263.5 L545.0,262.5 L545.4,260.8 L545.8,263.2 L546.3,263.8 L546.7,260.3 L547.2,262.1 L547.5,260.0 L547.6,258.4 L548.1,261.3 L548.5,266.5 L549.0,265.5 L549.4,268.1 L549.5,267.5 L549.9,266.8 L550.3,271.2 L550.8,272.1 L551.2,275.0 L551.2,276.9 L551.7,274.9 L552.1,278.9 L552.6,275.3 L553.0,277.5 L553.0,278.0 L553.5,275.1 L553.9,277.4 L554.4,280.0 L554.8,278.3 L555.0,278.5 L555.3,275.7 L555.7,277.0 L556.2,276.3 L556.6,274.2 L557.0,272.5 L557.1,274.6 L557.5,273.6 L558.0,281.0 L558.4,282.1 L558.7,282.5 L558.9,280.1 L559.3,285.7 L559.8,282.9 L560.2,284.8 L560.7,281.9 L561.1,284.0 L561.2,285.0 L561.6,282.1 L562.0,285.6 L562.5,283.6 L562.9,282.2 L563.4,282.7 L563.7,283.0 L563.8,284.7 L564.3,282.0 L564.7,284.2 L565.2,281.6 L565.6,281.1 L566.1,282.9 L566.2,283.7 L566.5,282.7 L567.0,282.8 L567.4,283.2 L567.9,280.5 L568.0,281.0 L568.3,280.3 L568.8,281.7 L569.2,281.0 L569.7,280.1 L570.0,280.0 L570.1,280.1 L570.6,276.2 L571.0,277.1 L571.5,274.6 L571.9,275.6 L572.4,276.6 L572.5,275.0 L572.8,272.5 L573.3,276.4 L573.7,275.0 L573.7,275.0 L574.2,283.3 L574.6,290.7 L575.0,297.5 L575.1,298.8 L575.5,297.5 L576.0,296.7 L576.4,300.7 L576.9,300.8 L577.0,301.2 L577.3,302.4 L577.8,302.7 L578.2,300.3 L578.7,302.8 L578.7,302.5 L579.1,301.8 L579.6,300.6 L580.0,299.9 L580.5,299.4 L580.9,297.2 L581.2,297.5 L581.4,297.2 L581.8,298.6 L582.3,295.3 L582.7,296.6 L583.2,294.9 L583.6,294.6 L583.7,296.2 L584.1,295.2 L584.5,295.6 L585.0,297.2 L585.4,294.1 L585.9,295.4 L586.2,293.7 L586.3,294.8 L586.8,295.0 L587.2,293.2 L587.7,296.9 L588.1,297.7 L588.6,296.9 L588.7,298.7 L589.0,298.9 L589.5,300.9 L589.9,297.0 L590.4,297.9 L590.8,300.1 L591.2,298.7 L591.3,295.9 L591.7,296.0 L592.2,297.1 L592.6,297.1 L593.0,295.0 L593.1,295.7 L593.5,289.7 L594.0,285.9 L594.4,278.7 L594.5,277.5 L594.9,274.4 L595.3,274.7 L595.8,274.6 L596.2,272.5 L596.2,272.9 L596.7,268.2 L597.1,269.8 L597.6,266.4 L598.0,266.2 L598.0,265.9 L598.5,268.1 L598.9,265.4 L599.4,264.4 L599.8,264.9 L600.0,265.0 L600.3,264.3 L600.7,268.3 L601.2,267.4 L601.6,268.0 L602.1,266.1 L602.5,267.5 L602.5,266.6 L603.0,268.5 L603.4,266.1 L603.9,270.8 L604.3,267.9 L604.5,270.0 L604.8,268.2 L605.2,265.5 L605.7,260.8 L606.2,259.6 L606.2,258.7 L606.6,260.6 L607.1,263.1 L607.5,262.0 L608.0,265.0 L608.0,262.5 L608.4,264.4 L608.9,264.8 L609.3,267.8 L609.8,267.1 L610.0,268.7 L610.2,270.2 L610.7,273.7 L611.1,277.3 L611.6,278.8 L612.0,281.2 L612.0,279.0 L612.5,274.7 L612.9,264.6 L613.0,262.5 L613.4,258.6 L613.8,253.3 L614.3,250.9 L614.5,247.5 L614.7,247.8 L615.2,248.0 L615.6,246.5 L616.1,248.6 L616.2,246.2 L616.5,245.6 L617.0,246.3 L617.4,245.7 L617.9,246.7 L618.0,245.0 L618.3,243.8 L618.8,244.1 L619.2,243.9 L619.7,242.9 L620.0,243.7 L620.1,242.5 L620.6,240.5 L621.0,242.3 L621.5,242.3 L621.9,237.5 L622.0,238.7 L622.4,240.1 L622.8,237.6 L623.3,238.4 L623.7,240.0 L623.7,239.5 L624.2,241.4 L624.6,243.2 L625.1,241.2 L625.5,245.0 L625.5,243.0 L626.0,244.6 L626.4,243.5 L626.9,245.9 L627.3,242.3 L627.5,242.5 L627.8,242.1 L628.2,246.1 L628.7,242.8 L629.1,243.9 L629.5,247.5 L629.6,250.2 L630.0,247.1 L630.5,248.5 L630.9,248.6 L631.4,248.0 L631.8,249.6 L632.0,250.0 L632.3,248.1 L632.7,251.8 L633.2,251.7 L633.6,251.8 L634.1,249.6 L634.5,251.2 L634.5,248.6 L635.0,250.3 L635.4,249.1 L635.9,251.1 L636.3,247.9 L636.8,248.7 L637.0,250.0 L637.2,250.4 L637.7,251.3 L638.1,251.2 L638.6,249.7 L639.0,251.0 L639.5,255.1 L639.5,252.5 L639.9,254.5 L640.4,252.5 L640.8,257.0 L641.3,254.9 L641.7,255.7 L642.0,256.2 L642.2,253.5 L642.6,252.7 L643.1,246.3 L643.5,241.8 L643.7,240.0 L644.0,237.9 L644.4,236.0 L644.9,236.9 L645.0,236.2 L645.3,236.4 L645.8,238.9 L646.2,235.5 L646.7,236.5 L647.1,238.8 L647.5,237.5 L647.6,238.7 L648.0,236.2 L648.5,239.2 L648.9,237.5 L649.4,237.9 L649.8,236.8 L650.0,236.2 L650.3,237.9 L650.7,236.3 L651.2,237.0 L651.6,239.4 L652.1,238.8 L652.5,238.7 L652.5,239.2 L653.0,240.8 L653.4,239.9 L653.9,240.6 L654.3,237.9 L654.8,240.2 L655.0,241.2 L655.2,242.3 L655.7,239.6 L656.1,240.2 L656.6,240.8 L657.0,240.0 L657.5,241.3 L657.5,240.0 L657.9,240.9 L658.4,240.1 L658.8,242.2 L659.3,240.3 L659.7,240.0 L660.0,241.2 L660.2,243.1 L660.6,247.8 L661.1,250.9 L661.2,252.5 L661.5,251.2 L662.0,252.4 L662.4,253.9 L662.5,253.7 L662.9,254.5 L663.3,255.9 L663.8,252.9 L664.2,252.5 L664.7,250.1 L665.0,252.5 L665.1,254.5 L665.6,254.4 L666.0,253.5 L666.5,252.9 L666.9,251.8 L667.4,255.9 L667.5,255.0 L667.8,253.5 L668.3,256.5 L668.7,254.9 L669.2,255.3 L669.6,252.7 L670.0,252.5 L670.1,254.3 L670.5,250.3 L671.0,254.5 L671.4,252.2 L671.9,250.4 L672.3,251.4 L672.5,252.0 L672.8,250.3 L673.2,251.8 L673.7,250.0 L674.1,248.8 L674.6,249.8 L675.0,250.0 L675.0,249.6 L675.5,249.8 L675.9,250.1 L676.4,250.5 L676.8,248.8 L677.3,250.2 L677.5,247.5 L677.7,245.2 L678.2,248.2 L678.6,250.3 L679.1,247.5 L679.5,250.0 L679.5,249.7 L680.0,247.5 L680.4,242.0 L680.7,242.5 L680.9,239.9 L681.3,236.5 L681.8,229.9 L682.0,227.5 L682.2,229.5 L682.7,229.1 L683.1,225.8 L683.6,223.5 L683.7,225.0 L684.0,224.6 L684.5,223.4 L684.9,221.7 L685.4,222.7 L685.8,222.2 L686.2,222.5 L686.3,221.8 L686.7,222.4 L687.2,221.3 L687.5,218.7 L687.6,219.3 L688.1,217.9 L688.5,218.8 L689.0,218.0 L689.4,218.1 L689.9,216.1 L690.0,217.5 L690.3,214.6 L690.8,218.1 L691.2,215.4 L691.7,215.1 L692.1,215.4 L692.5,215.0 L692.6,214.8 L693.0,213.0 L693.5,214.4 L693.9,211.0 L694.4,209.8 L694.8,206.8 L695.0,207.5 L695.3,206.4 L695.7,205.6 L696.2,203.1 L696.6,202.0 L697.0,200.0 L697.1,198.7 L697.5,201.6 L698.0,200.5 L698.4,202.4 L698.7,203.7 L698.9,202.4 L699.3,203.6 L699.8,204.6 L700.2,203.1 L700.5,202.5 L700.7,201.0 L701.1,201.9 L701.6,202.7 L702.0,201.7 L702.5,200.8 L702.5,200.0 L702.9,198.8 L703.4,200.2 L703.8,200.6 L704.3,201.5 L704.5,202.5 L704.7,202.0 L705.2,199.7 L705.6,197.2 L706.0,196.0 L706.1,197.0 L706.5,196.8 L707.0,199.1 L707.4,201.5 L707.7,202.5 L707.9,200.9 L708.3,202.9 L708.8,203.3 L709.2,205.1 L709.5,207.5 L709.7,207.5 L710.1,208.3 L710.6,209.8 L711.0,210.0 L711.0,210.5 L711.5,207.2 L711.9,210.3 L712.4,208.6 L712.8,203.7 L713.0,205.0 L713.3,203.7 L713.7,203.4 L714.2,203.9 L714.6,203.9 L715.0,202.5 L715.1,202.2 L715.5,196.8 L716.0,199.2 L716.4,195.0 L716.9,192.2 L717.0,190.0 L717.3,187.9 L717.8,187.8 L718.2,187.6 L718.7,184.1 L719.0,183.7 L719.1,185.5 L719.6,184.3 L720.0,186.9 L720.5,185.0 L720.5,185.0 L720.9,184.2 L721.4,176.2 L721.8,177.4 L722.3,172.5 L722.5,170.0 L722.7,168.4 L723.2,168.3 L723.6,164.1 L724.1,163.5 L724.5,160.0 L724.5,161.4 L725.0,158.7 L725.4,156.9 L725.9,153.5 L726.0,150.5 L726.3,155.3 L726.8,157.0 L727.2,159.4 L727.7,163.0 L728.0,165.0 L728.1,164.4 L728.6,160.4 L729.0,160.2 L729.5,156.0 L729.9,155.1 L730.0,155.0 L730.4,155.4 L730.8,156.2 L731.3,156.5 L731.7,159.4 L732.0,160.0 L732.2,159.5 L732.6,160.2 L733.1,157.8 L733.5,156.9 L734.0,153.4 L734.4,152.3 L734.5,152.5 L734.9,152.2 L735.3,154.7 L735.8,159.1 L736.2,160.0 L736.2,159.7 L736.7,161.0 L737.1,161.7 L737.6,166.1 L738.0,165.0 L738.0,164.9 L738.5,166.1 L738.9,163.8 L739.4,164.7 L739.8,161.3 L740.0,162.5 L740.3,161.7 L740.7,167.6 L741.2,167.8 L741.6,170.9 L742.0,172.5 L742.1,173.6 L742.5,171.7 L743.0,169.3 L743.4,165.5 L743.9,164.5 L744.0,165.0 L744.3,164.3 L744.8,164.1 L745.2,162.8 L745.7,161.4 L746.0,160.0 L746.1,158.6 L746.6,158.6 L747.0,158.9 L747.5,155.1 L747.9,154.4 L748.0,155.0 L748.4,156.8 L748.8,158.4 L749.3,157.2 L749.7,157.1 L750.0,157.5 L750.2,155.8 L750.6,156.4 L751.1,154.7 L751.5,155.4 L752.0,155.6 L752.4,154.5 L752.5,153.7 L752.9,156.3 L753.3,153.8 L753.8,154.3 L754.2,159.1 L754.7,159.6 L755.0,158.7 L755.1,157.5 L755.6,160.0 L756.0,159.1 L756.5,161.6 L756.9,163.0 L757.4,164.8 L757.5,163.7 L757.8,162.7 L758.3,163.0 L758.7,166.4 L759.2,165.7 L759.6,169.0 L760.0,167.5 L760.1,166.1 L760.5,169.3 L761.0,170.2 L761.4,177.0 L761.9,179.8 L762.0,178.7 L762.3,178.2 L762.8,175.5 L763.2,171.7 L763.7,170.6 L763.7,172.5 L764.1,168.9 L764.6,169.2 L765.0,164.8 L765.5,159.5 L765.5,160.0 L765.9,160.2 L766.4,160.0 L766.8,159.5 L767.3,156.9 L767.7,157.1 L768.0,157.5 L768.2,159.7 L768.6,161.5 L769.1,162.2 L769.5,165.0 L769.5,167.6 L770.0,169.0 L770.4,171.6 L770.9,177.2 L771.2,178.7 L771.3,179.4 L771.8,175.9 L772.2,176.5 L772.7,173.3 L773.0,170.0 L773.1,170.1 L773.6,171.3 L774.0,171.5 L774.5,170.3 L774.9,172.0 L775.0,171.0 L775.4,169.2 L775.8,168.3 L776.3,168.2 L776.7,164.0 L777.0,165.0 L777.2,165.0 L777.6,165.7 L778.1,169.8 L778.5,169.4 L778.7,171.0 L779.0,174.5 L779.4,175.9 L779.9,174.2 L780.3,177.2 L780.8,178.1 L781.0,179.5 L781.2,178.5 L781.7,177.4 L782.1,176.5 L782.6,174.7 L783.0,170.0 L783.0,172.6 L783.5,167.6 L783.9,168.2 L784.4,168.0 L784.8,167.3 L785.0,167.5 L785.3,167.1 L785.7,166.7 L786.2,163.8 L786.6,162.5 L787.1,164.8 L787.5,161.0 L787.5,162.0 L788.0,164.7 L788.4,162.3 L788.9,166.3 L789.3,167.8 L789.8,168.4 L790.0,167.0 L790.2,165.6 L790.7,166.8 L791.1,164.2 L791.6,163.0 L792.0,164.0 L792.0,164.0 L792.5,163.3 L792.9,160.7 L793.4,159.4 L793.7,158.4 L793.8,159.3 L794.3,157.0 L794.7,158.3 L795.2,158.4 L795.5,157.0 L795.6,157.9 L796.1,157.2 L796.5,154.4 L797.0,154.9 L797.4,154.2 L797.5,154.7 L797.9,155.3 L798.3,151.0 L798.8,153.2 L799.2,150.0 L799.5,152.0 L799.7,151.5 L800.1,145.2 L800.6,141.5 L801.0,138.2 L801.2,134.8 L801.5,136.5 L801.9,130.9 L802.4,131.0 L802.8,126.6 L803.0,128.5 L803.3,127.3 L803.7,124.9 L804.2,125.2 L804.6,122.4 L805.0,121.0 L805.1,121.2 L805.5,119.7 L806.0,121.2 L806.4,120.3 L806.9,122.3 L806.9,122.3 L807.3,119.1 L807.8,121.0 L808.2,121.3 L808.7,121.3 L808.7,118.6 L809.1,121.1 L809.6,121.2 L810.0,120.7 L810.4,119.8 L810.5,122.0 L810.9,118.2 L811.4,117.5 L811.8,112.9 L812.3,113.3 L812.4,113.6 L812.7,116.4 L813.2,113.8 L813.6,118.5 L814.1,119.6 L814.4,121.0 L814.5,120.4 L815.0,121.1 L815.4,120.3 L815.9,118.3 L816.1,119.8 L816.3,120.3 L816.8,119.0 L817.2,125.1 L817.7,124.1 L817.9,124.8 L818.1,125.5 L818.6,121.4 L819.0,124.0 L819.5,121.5 L819.9,118.6 L819.9,119.1 L820.4,118.3 L820.8,117.8 L821.3,115.5 L821.7,115.6 L822.2,114.8 L822.3,114.9 L822.6,115.3 L823.1,116.8 L823.5,116.0 L824.0,114.5 L824.4,114.8 L824.8,113.6 L824.9,113.3 L825.3,113.5 L825.8,112.4 L826.2,113.5 L826.7,114.2 L826.8,116.1 L827.1,117.9 L827.6,120.5 L827.8,122.3 L828.0,122.8 L828.5,123.6 L828.9,122.6 L829.4,121.1 L829.8,121.0 L829.8,120.3 L830.3,120.8 L830.7,122.4 L831.2,120.4 L831.6,119.7 L832.1,121.9 L832.3,122.3 L832.5,124.1 L833.0,124.9 L833.4,124.6 L833.9,121.6 L834.3,124.8 L834.3,124.6 L834.8,131.5 L835.2,137.6 L835.3,137.2 L835.7,138.7 L836.1,133.2 L836.6,133.7 L836.8,132.3 L837.0,130.7 L837.5,134.4 L837.9,135.7 L838.4,139.2 L838.5,138.5 L838.8,138.3 L839.3,134.8 L839.7,136.6 L840.2,136.6 L840.6,137.6 L841.0,134.8 L841.1,133.7 L841.5,132.8 L842.0,132.6 L842.4,134.3 L842.7,132.3 L842.9,132.2 L843.3,133.6 L843.8,134.9 L844.2,133.9 L844.7,137.5 L844.7,136.0 L845.1,135.2 L845.6,142.0 L846.0,140.2 L846.5,141.7 L846.9,143.7 L847.2,146.0 L847.4,143.6 L847.8,142.1 L848.3,140.2 L848.7,137.7 L849.2,137.2 L849.2,137.2 L849.6,136.3 L850.1,133.4 L850.5,133.0 L851.0,129.9 L851.0,131.0 L851.4,129.9 L851.9,127.4 L852.3,124.6 L852.7,124.8 L852.8,124.9 L853.2,124.3 L853.7,123.3 L854.1,123.9 L854.6,124.5 L854.7,123.6 L855.0,120.7 L855.5,120.2 L855.9,120.4 L856.4,117.9 L856.8,117.5 L857.2,114.9 L857.3,117.4 L857.7,111.7 L858.2,113.0 L858.6,110.7 L859.1,112.2 L859.5,109.8 L860.0,105.7 L860.1,107.4 L860.4,109.8 L860.9,109.3 L861.3,109.9 L861.8,111.6 L862.1,112.4 L862.2,112.6 L862.7,110.6 L863.1,110.8 L863.6,113.0 L864.0,109.0 L864.5,109.2 L864.6,109.9 L864.9,111.4 L865.4,109.2 L865.8,110.8 L866.3,112.0 L866.7,110.7 L867.1,112.4 L867.2,112.0 L867.6,111.8 L868.1,113.5 L868.5,114.9 L869.0,115.2 L869.4,116.2 L869.6,116.1 L869.9,116.0 L870.3,115.5 L870.8,111.7 L871.2,112.3 L871.7,113.4 L872.1,109.9 L872.1,109.5 L872.6,109.3 L873.0,109.4 L873.5,108.1 L873.9,109.8 L874.4,108.7 L874.6,108.6 L874.8,107.6 L875.3,107.3 L875.7,106.3 L876.2,100.8 L876.6,101.2 L876.6,100.5 L877.1,100.6 L877.5,98.6 L878.0,101.5 L878.4,102.9 L878.9,101.3 L879.0,100.0 L879.3,102.3 L879.8,98.5 L880.2,101.1 L880.7,100.5 L881.1,104.3 L881.5,103.7 L881.6,103.5 L882.0,102.9 L882.5,103.5 L882.9,103.4 L883.4,104.3 L883.8,103.4 L884.0,101.2 L884.3,102.3 L884.7,98.1 L885.2,101.9 L885.6,99.7 L886.1,96.9 L886.5,98.7 L886.5,98.9 L887.0,99.9 L887.4,101.7 L887.9,104.8 L888.3,104.9 L888.3,102.9 L888.8,106.3 L889.2,107.6 L889.7,104.6 L890.1,108.8 L890.6,106.1 L890.8,107.4 L891.0,106.6 L891.5,109.8 L891.9,109.0 L892.4,107.1 L892.5,109.9 L892.8,108.4 L893.3,109.5 L893.7,106.8 L894.2,106.1 L894.5,106.1 L894.6,106.0 L895.1,105.6 L895.5,104.1 L896.0,103.3 L896.4,104.9 L896.9,105.7 L897.0,103.7 L897.3,101.5 L897.8,105.4 L898.2,107.0 L898.7,104.8 L899.1,109.0 L899.5,107.4 L899.6,105.0 L900.0,107.5 L900.5,107.3 L900.9,106.0 L901.4,99.9 L901.4,102.4 L901.8,101.0 L902.3,97.8 L902.7,98.2 L903.1,96.1 L903.2,98.4 L903.6,98.4 L904.1,101.8 L904.5,98.4 L904.6,101.2 L905.0,102.0 L905.4,105.2 L905.6,107.2 L905.9,109.2 L906.3,111.9 L906.6,111.3 L906.8,109.7 L907.2,108.6 L907.7,110.3 L908.1,105.9 L908.2,107.7 L908.6,107.8 L909.0,104.9 L909.5,105.1 L909.7,104.7 L909.9,108.0 L910.4,106.6 L910.8,108.6 L911.3,108.9 L911.3,110.3 L911.7,113.4 L912.2,117.3 L912.2,115.3 L912.6,115.8 L913.1,112.3 L913.5,114.2 L913.8,113.3 L914.0,116.2 L914.4,114.3 L914.8,117.4 L914.9,117.5 L915.3,119.1 L915.8,122.3 L915.8,123.5 L916.2,124.8 L916.7,127.4 L916.8,130.5 L917.1,134.0 L917.3,135.1 L917.6,133.9 L918.0,129.5 L918.5,128.6 L918.8,128.6 L918.9,127.3 L919.4,126.0 L919.8,127.2 L920.3,125.9 L920.3,126.1 L920.7,127.2 L921.2,125.1 L921.6,126.6 L921.9,128.1 L922.1,127.2 L922.5,126.6 L922.9,126.6 L923.0,126.3 L923.4,128.0 L923.9,131.2 L924.3,136.1 L924.4,134.1 L924.8,132.0 L925.2,129.5 L925.7,131.2 L925.9,130.1 L926.1,128.8 L926.6,131.6 L927.0,132.2 L927.5,133.4 L927.9,131.1 L927.9,131.3 L928.4,128.4 L928.8,133.1 L929.3,131.8 L929.7,132.1 L929.9,130.1 L930.2,129.3 L930.6,126.9 L931.1,125.7 L931.5,123.9 L931.5,121.3 L932.0,127.0 L932.4,126.2 L932.5,127.5 L932.9,126.4 L933.3,127.7 L933.6,127.0" fill="none" stroke="#0a0a0a" stroke-width="1.6" stroke-linejoin="round"/>
<text x="91" y="147.8" font-size="10.5" fill="#6c6c72">100%</text>
<text x="91" y="238.5" font-size="10.5" fill="#6c6c72">75%</text>
<text x="91" y="329.2" font-size="10.5" fill="#6c6c72">50%</text>
<text x="91" y="419.9" font-size="10.5" fill="#6c6c72">25%</text>
<line x1="85" y1="426.5" x2="934" y2="426.5" stroke="#5066d6" stroke-width="1.6" stroke-dasharray="3.2 1.8"/>
<rect x="938.5" y="414.3" width="47.7" height="21.4" fill="#1652e0"/>
<text x="962.5" y="430" text-anchor="middle" font-size="13" fill="#fff" textLength="40" lengthAdjust="spacingAndGlyphs">23.6*%</text>
<g transform="translate(399,537.5)"><polygon points="1,3.5 3.5,0.5 8.5,0.5 11,3.5 6,11" fill="#4aa6e8"/><polygon points="1,3.5 11,3.5 6,11" fill="#2f8ad6"/><polygon points="3.5,0.5 8.5,0.5 6,3.5" fill="#8fd0f6"/></g>
<text x="414.6" y="547" font-size="11" fill="#6a6a70" textLength="84.7" lengthAdjust="spacingAndGlyphs">Premium Research</text>
<path d="M503,543.3 H509.6 M506.6,540.4 L509.6,543.3 L506.6,546.2" fill="none" stroke="#6a6a70" stroke-width="1.1" stroke-linecap="round" stroke-linejoin="round"/>
<text x="514" y="547" font-size="11" fill="#6a6a70" textLength="106.9" lengthAdjust="spacingAndGlyphs">https://adlerinsight.com</text>
<line x1="514" y1="549.3" x2="620.9" y2="549.3" stroke="#a0a0a6" stroke-width="0.9"/>
<text x="849.6" y="548.8" font-size="9" fill="#76767c" textLength="125.4" lengthAdjust="spacingAndGlyphs">© CryptoQuant. All rights reserved</text>
</svg></body></html>
